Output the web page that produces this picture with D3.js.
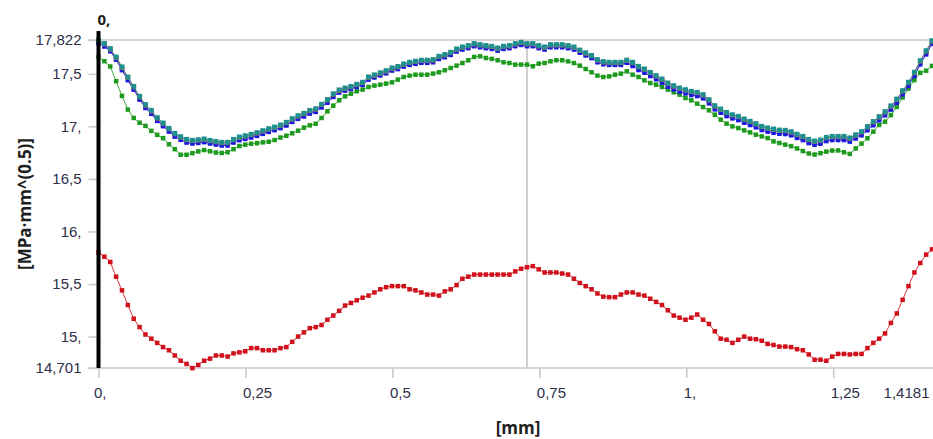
<!DOCTYPE html>
<html>
<head>
<meta charset="utf-8">
<script src="https://cdn.jsdelivr.net/npm/d3@7"></script>
<style>
  body { margin: 0; background: #fff; }
  svg { display: block; font-family: "Open Sans", "Noto Sans", sans-serif; }
  .tick text { fill: #2e2e4a; font-size: 15px; }
  .tick line { stroke: #c8c8c8; }
  .domain { display: none; }
  .title { font-weight: bold; font-size: 16px; fill: #1e1e1e; }
</style>
</head>
<body>
<script>
// sampling along the path [mm]
const PATH_LENGTH = 1.4181
const N_POINTS = 143
const CURSOR = 0.729

// axis ticks
const yTicks = [14.701, 15, 15.5, 16, 16.5, 17, 17.5, 17.822]
const yTickLabels = ['14,701', '15,', '15,5', '16,', '16,5', '17,', '17,5', '17,822']
const xTicks = [0, 0.25, 0.5, 0.75, 1, 1.25, 1.4181]
const xTickLabels = ['0,', '0,25', '0,5', '0,75', '1,', '1,25', '1,4181']

// series values [MPa·mm^(0.5)]
const teal = [17.819,17.788,17.74,17.66,17.566,17.47,17.38,17.286,17.207,17.152,
  17.083,17.032,16.981,16.933,16.902,16.876,16.867,16.873,16.88,16.867,
  16.857,16.848,16.848,16.876,16.899,16.911,16.924,16.94,16.959,16.978,
  16.994,17.013,17.038,17.073,17.102,17.124,17.152,17.168,17.21,17.255,
  17.31,17.347,17.365,17.38,17.40,17.42,17.47,17.49,17.51,17.53,
  17.556,17.57,17.594,17.61,17.62,17.63,17.63,17.635,17.667,17.683,
  17.705,17.737,17.756,17.769,17.788,17.778,17.769,17.762,17.746,17.762,
  17.769,17.788,17.80,17.788,17.788,17.769,17.756,17.778,17.778,17.778,
  17.769,17.756,17.726,17.70,17.675,17.635,17.616,17.61,17.61,17.61,
  17.63,17.61,17.571,17.546,17.514,17.483,17.451,17.413,17.387,17.365,
  17.349,17.333,17.324,17.302,17.254,17.197,17.165,17.133,17.111,17.095,
  17.07,17.048,17.026,17.00,16.985,16.975,16.965,16.962,16.95,16.925,
  16.905,16.876,16.86,16.87,16.895,16.905,16.905,16.905,16.89,16.92,
  16.95,16.998,17.046,17.093,17.14,17.195,17.26,17.34,17.42,17.515,
  17.625,17.72,17.815]

const orange = [17.815,17.783,17.735,17.655,17.56,17.465,17.375,17.28,17.20,17.145,
  17.078,17.027,16.976,16.928,16.897,16.871,16.862,16.868,16.875,16.862,
  16.852,16.843,16.843,16.871,16.894,16.906,16.919,16.935,16.954,16.973,
  16.989,17.008,17.033,17.068,17.097,17.119,17.147,17.163,17.205,17.25,
  17.305,17.342,17.36,17.375,17.395,17.415,17.465,17.485,17.505,17.525,
  17.551,17.565,17.589,17.605,17.615,17.625,17.625,17.63,17.662,17.678,
  17.70,17.732,17.751,17.764,17.783,17.773,17.764,17.757,17.741,17.757,
  17.764,17.783,17.795,17.783,17.783,17.764,17.751,17.773,17.773,17.773,
  17.764,17.751,17.721,17.695,17.67,17.63,17.611,17.605,17.605,17.605,
  17.625,17.605,17.566,17.541,17.509,17.478,17.446,17.408,17.382,17.36,
  17.344,17.328,17.319,17.297,17.249,17.192,17.16,17.128,17.106,17.09,
  17.065,17.043,17.021,16.995,16.98,16.97,16.96,16.957,16.945,16.92,
  16.90,16.871,16.855,16.865,16.89,16.90,16.90,16.90,16.885,16.915,
  16.945,16.993,17.041,17.088,17.135,17.19,17.255,17.335,17.415,17.51,
  17.62,17.715,17.81]

const purple = [17.80,17.77,17.725,17.645,17.545,17.45,17.36,17.265,17.185,17.13,
  17.063,17.012,16.961,16.913,16.882,16.856,16.847,16.853,16.86,16.847,
  16.837,16.828,16.828,16.856,16.879,16.891,16.904,16.92,16.939,16.958,
  16.974,16.993,17.018,17.053,17.082,17.104,17.132,17.148,17.19,17.235,
  17.29,17.332,17.35,17.365,17.385,17.405,17.455,17.475,17.495,17.515,
  17.541,17.555,17.579,17.595,17.605,17.615,17.615,17.62,17.652,17.668,
  17.69,17.722,17.741,17.754,17.773,17.763,17.754,17.747,17.731,17.747,
  17.754,17.773,17.785,17.773,17.773,17.754,17.741,17.763,17.763,17.763,
  17.754,17.741,17.711,17.685,17.66,17.62,17.601,17.595,17.595,17.595,
  17.615,17.59,17.551,17.526,17.494,17.463,17.431,17.393,17.367,17.345,
  17.329,17.313,17.304,17.282,17.234,17.177,17.145,17.113,17.091,17.075,
  17.05,17.028,17.006,16.98,16.965,16.955,16.945,16.942,16.93,16.905,
  16.885,16.856,16.84,16.85,16.875,16.885,16.885,16.885,16.87,16.90,
  16.93,16.978,17.026,17.073,17.12,17.175,17.24,17.32,17.40,17.495,
  17.605,17.70,17.795]

const blue = [17.79,17.76,17.715,17.635,17.535,17.44,17.35,17.255,17.175,17.12,
  17.053,17.002,16.951,16.903,16.872,16.846,16.837,16.843,16.85,16.837,
  16.827,16.818,16.818,16.846,16.869,16.881,16.894,16.91,16.929,16.948,
  16.964,16.983,17.008,17.043,17.072,17.094,17.122,17.138,17.18,17.225,
  17.28,17.322,17.34,17.355,17.375,17.395,17.445,17.465,17.485,17.505,
  17.531,17.545,17.569,17.585,17.595,17.605,17.605,17.61,17.642,17.658,
  17.68,17.712,17.731,17.744,17.763,17.753,17.744,17.737,17.721,17.737,
  17.744,17.763,17.775,17.763,17.763,17.744,17.731,17.753,17.753,17.753,
  17.744,17.731,17.701,17.675,17.65,17.61,17.591,17.585,17.585,17.585,
  17.605,17.575,17.536,17.511,17.479,17.448,17.416,17.378,17.352,17.33,
  17.314,17.298,17.289,17.267,17.219,17.162,17.13,17.098,17.076,17.06,
  17.035,17.013,16.991,16.965,16.95,16.94,16.93,16.927,16.915,16.89,
  16.87,16.841,16.825,16.835,16.86,16.87,16.87,16.87,16.855,16.885,
  16.915,16.963,17.011,17.058,17.105,17.16,17.225,17.305,17.385,17.48,
  17.59,17.685,17.785]

const green = [17.66,17.62,17.57,17.43,17.29,17.16,17.08,17.035,17.005,16.957,
  16.92,16.888,16.83,16.783,16.73,16.73,16.745,16.762,16.775,16.763,
  16.751,16.747,16.754,16.783,16.813,16.826,16.835,16.84,16.848,16.854,
  16.87,16.894,16.911,16.934,16.959,16.988,17.01,17.025,17.08,17.143,
  17.197,17.248,17.286,17.311,17.334,17.35,17.375,17.388,17.397,17.407,
  17.419,17.445,17.47,17.483,17.492,17.492,17.492,17.502,17.515,17.534,
  17.556,17.578,17.603,17.629,17.661,17.667,17.651,17.642,17.629,17.61,
  17.603,17.588,17.588,17.588,17.572,17.597,17.603,17.619,17.629,17.629,
  17.619,17.603,17.578,17.546,17.515,17.483,17.47,17.476,17.492,17.502,
  17.524,17.492,17.47,17.438,17.413,17.397,17.375,17.35,17.324,17.302,
  17.27,17.248,17.216,17.184,17.153,17.111,17.064,17.026,17.00,16.984,
  16.962,16.943,16.921,16.905,16.889,16.857,16.842,16.826,16.812,16.79,
  16.765,16.742,16.732,16.745,16.76,16.77,16.771,16.754,16.738,16.79,
  16.836,16.887,16.95,17.014,17.045,17.108,17.185,17.275,17.36,17.44,
  17.51,17.53,17.575]

const red = [15.80,15.76,15.71,15.57,15.44,15.30,15.17,15.09,15.02,14.98,
  14.94,14.90,14.87,14.82,14.77,14.74,14.70,14.73,14.77,14.79,
  14.82,14.82,14.81,14.84,14.85,14.86,14.89,14.89,14.87,14.87,
  14.87,14.89,14.90,14.95,15.00,15.04,15.08,15.09,15.11,15.16,
  15.20,15.245,15.295,15.32,15.345,15.37,15.39,15.42,15.45,15.47,
  15.48,15.48,15.48,15.45,15.44,15.42,15.40,15.40,15.39,15.43,
  15.45,15.49,15.55,15.57,15.59,15.59,15.59,15.59,15.59,15.59,
  15.59,15.62,15.645,15.66,15.67,15.64,15.61,15.61,15.61,15.60,
  15.59,15.55,15.51,15.48,15.45,15.41,15.38,15.375,15.375,15.40,
  15.42,15.42,15.40,15.39,15.36,15.33,15.30,15.25,15.20,15.18,
  15.16,15.18,15.21,15.16,15.12,15.05,14.98,14.97,14.94,14.97,
  15.00,14.98,14.975,14.96,14.93,14.92,14.905,14.905,14.90,14.88,
  14.87,14.83,14.78,14.78,14.77,14.81,14.835,14.835,14.83,14.835,
  14.835,14.89,14.94,14.98,15.03,15.13,15.22,15.35,15.48,15.61,
  15.70,15.78,15.83]

const distance = d3.range(N_POINTS).map(i => PATH_LENGTH * i / (N_POINTS - 1))

// drawing order: bottom first, teal on top
const series = [
  { name: 'red', values: red, color: '#d0101a', size: 4.5 },
  { name: 'green', values: green, color: '#1e9a1e', size: 4.5 },
  { name: 'purple', values: purple, color: '#9a2ee0', size: 4.5 },
  { name: 'blue', values: blue, color: '#1818e0', size: 4.5 },
  { name: 'orange', values: orange, color: '#e07820', size: 4.5 },
  { name: 'teal', values: teal, color: '#1f9090', size: 5 }
]

const W = 933, H = 439
const M = { top: 40, right: 1, bottom: 71, left: 98.5 }

const x = d3.scaleLinear().domain([0, PATH_LENGTH]).range([M.left, W - M.right])
const y = d3.scaleLinear().domain([yTicks[0], yTicks[yTicks.length - 1]]).range([H - M.bottom, M.top])

const svg = d3.select('body').append('svg')
  .attr('width', W)
  .attr('height', H)

// frame lines: top and bottom
svg.append('line')
  .attr('x1', M.left - 10).attr('x2', W)
  .attr('y1', y(yTicks[yTicks.length - 1])).attr('y2', y(yTicks[yTicks.length - 1]))
  .attr('stroke', '#c8c8c8').attr('stroke-width', 1.5)
svg.append('line')
  .attr('x1', M.left - 10).attr('x2', W)
  .attr('y1', y(yTicks[0])).attr('y2', y(yTicks[0]))
  .attr('stroke', '#c8c8c8').attr('stroke-width', 1.5)

// y axis
const yAxis = svg.append('g')
  .attr('transform', 'translate(' + M.left + ',0)')
  .call(d3.axisLeft(y).tickValues(yTicks).tickSize(10).tickPadding(7)
    .tickFormat((d, i) => yTickLabels[i]))
yAxis.selectAll('.tick line').attr('stroke-width', 1.5)

// x axis
const xAxis = svg.append('g')
  .attr('transform', 'translate(0,' + y(yTicks[0]) + ')')
  .call(d3.axisBottom(x).tickValues(xTicks).tickSize(10).tickPadding(9)
    .tickFormat((d, i) => xTickLabels[i]))
xAxis.selectAll('.tick line').attr('stroke-width', 1.5)
xAxis.selectAll('.tick text')
  .attr('text-anchor', (d, i) => i === xTicks.length - 1 ? 'end' : 'start')
  .attr('x', (d, i) => i === 0 ? -5 : -3)
xAxis.selectAll('.tick').filter((d, i) => i === xTicks.length - 1).select('line').remove()

// cursor line
svg.append('line')
  .attr('x1', x(CURSOR)).attr('x2', x(CURSOR))
  .attr('y1', y(yTicks[yTicks.length - 1])).attr('y2', y(yTicks[0]))
  .attr('stroke', '#cfcfcf').attr('stroke-width', 2)

// series
const line = d3.line()
  .x((d, i) => x(distance[i]))
  .y(d => y(d))

const g = svg.append('g')
series.forEach(s => {
  g.append('path')
    .attr('d', line(s.values))
    .attr('fill', 'none')
    .attr('stroke', s.color)
    .attr('stroke-width', 1)
    .attr('stroke-opacity', 0.85)
  g.append('g').selectAll('rect')
    .data(s.values)
    .join('rect')
      .attr('x', (d, i) => x(distance[i]) - s.size / 2)
      .attr('y', d => y(d) - s.size / 2)
      .attr('width', s.size)
      .attr('height', s.size)
      .attr('fill', s.color)
})

// probe at x = 0
svg.append('line')
  .attr('x1', x(0)).attr('x2', x(0))
  .attr('y1', 31).attr('y2', y(yTicks[0]))
  .attr('stroke', '#000').attr('stroke-width', 4)
svg.append('text')
  .attr('class', 'title')
  .attr('x', x(0) - 1).attr('y', 25)
  .style('font-size', '15px')
  .text('0,')

// axis titles
svg.append('text')
  .attr('class', 'title')
  .attr('transform', 'translate(31,' + ((M.top + H - M.bottom) / 2) + ') rotate(-90)')
  .attr('text-anchor', 'middle')
  .style('font-size', '17px')
  .text('[MPa·mm^(0.5)]')
svg.append('text')
  .attr('class', 'title')
  .attr('x', 518).attr('y', 434)
  .attr('text-anchor', 'middle')
  .style('font-size', '17px')
  .text('[mm]')
</script>
</body>
</html>
